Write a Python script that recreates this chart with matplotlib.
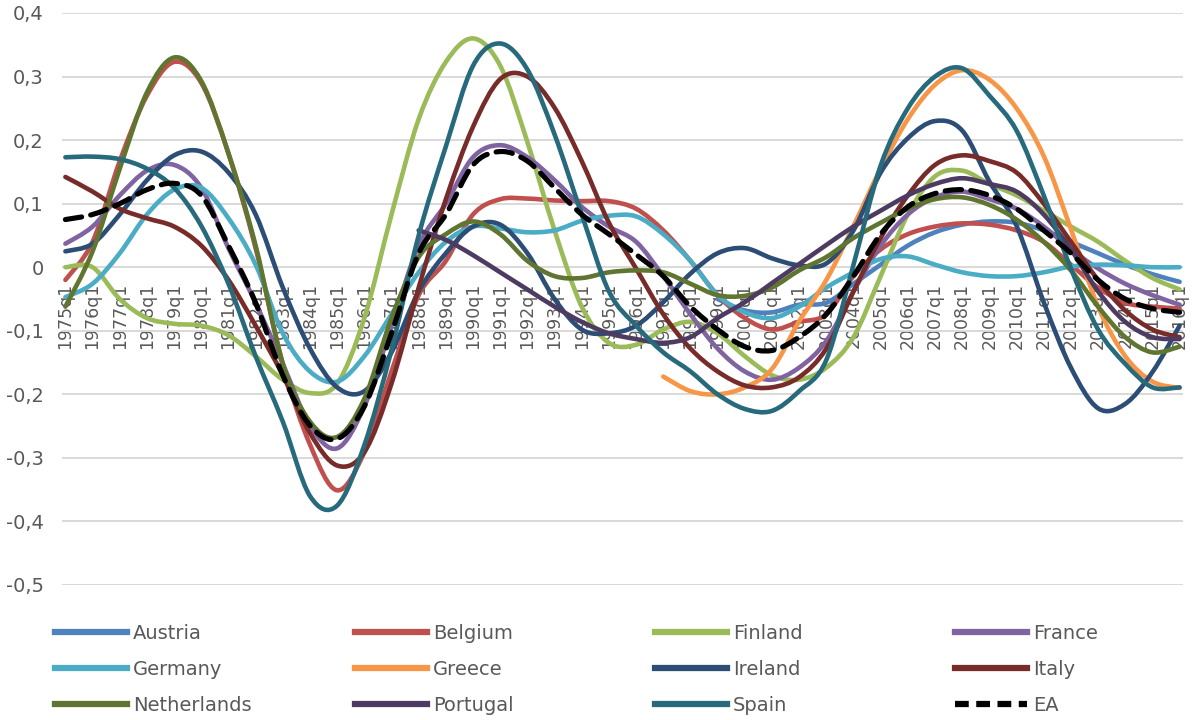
"""Output-gap style cycles for euro area countries, 1975q1-2016q1.

Values read once a year (q1) off the reference chart; the lines are
drawn as smoothed curves like the Excel original.
"""

import numpy as np
import matplotlib
matplotlib.use("Agg")
import matplotlib.pyplot as plt
from matplotlib.path import Path
from matplotlib.patches import PathPatch
from matplotlib.lines import Line2D

nan = np.nan

years = list(range(1975, 2017))

austria = [nan] * 24 + [
    -0.05, -0.068, -0.071, -0.059,
    -0.056, -0.026, 0.004, 0.034, 0.055, 0.067, 0.072,
    0.07, 0.058, 0.04, 0.022, 0.004, -0.011, -0.023]
belgium = [
    -0.02, 0.04, 0.167, 0.27, 0.323, 0.29, 0.179,
    0.03, -0.152, -0.279, -0.351, -0.291, -0.164, -0.044,
    0.01, 0.083, 0.107, 0.108, 0.105, 0.104, 0.104,
    0.092, 0.058, 0.01, -0.044, -0.08, -0.098, -0.086,
    -0.074, -0.014, 0.028, 0.052, 0.064, 0.069, 0.067,
    0.058, 0.04, 0.004, -0.032, -0.056, -0.062, -0.065]
finland = [
    0.0, 0.0, -0.05, -0.08, -0.089, -0.092, -0.107,
    -0.14, -0.177, -0.198, -0.183, -0.08, 0.083, 0.233,
    0.323, 0.36, 0.317, 0.197, 0.058, -0.062, -0.119,
    -0.122, -0.098, -0.086, -0.104, -0.14, -0.17, -0.177,
    -0.158, -0.11, -0.014, 0.083, 0.143, 0.152, 0.131,
    0.113, 0.089, 0.064, 0.04, 0.01, -0.017, -0.035]
france = [
    0.037, 0.064, 0.113, 0.152, 0.161, 0.125, 0.03,
    -0.056, -0.152, -0.249, -0.285, -0.219, -0.092, 0.034,
    0.1, 0.173, 0.192, 0.173, 0.137, 0.095, 0.064,
    0.04, -0.014, -0.074, -0.128, -0.164, -0.177, -0.158,
    -0.116, -0.038, 0.034, 0.083, 0.11, 0.119, 0.107,
    0.092, 0.064, 0.028, -0.002, -0.026, -0.044, -0.059]
germany = [
    -0.047, -0.026, 0.022, 0.083, 0.122, 0.125, 0.077,
    0.004, -0.104, -0.164, -0.18, -0.14, -0.074, -0.008,
    0.04, 0.064, 0.061, 0.055, 0.058, 0.073, 0.081,
    0.08, 0.052, 0.01, -0.044, -0.071, -0.08, -0.062,
    -0.032, -0.008, 0.013, 0.017, 0.004, -0.008, -0.014,
    -0.014, -0.008, 0.001, 0.004, 0.003, 0.0, 0.0]
greece = [nan] * 22 + [
    -0.172, -0.195, -0.2, -0.189, -0.16, -0.085,
    -0.02, 0.065, 0.155, 0.233, 0.287, 0.31, 0.295,
    0.25, 0.175, 0.06, -0.062, -0.14, -0.18, -0.19]
ireland = [
    0.025, 0.037, 0.083, 0.137, 0.176, 0.182, 0.149,
    0.083, -0.032, -0.128, -0.189, -0.195, -0.134, -0.038,
    0.022, 0.064, 0.067, 0.022, -0.05, -0.098, -0.104,
    -0.092, -0.055, -0.01, 0.022, 0.03, 0.014, 0.003,
    0.006, 0.058, 0.149, 0.203, 0.23, 0.215, 0.135,
    0.065, -0.055, -0.158, -0.222, -0.215, -0.165, -0.092]
italy = [
    0.142, 0.119, 0.092, 0.077, 0.064, 0.034, -0.02,
    -0.092, -0.17, -0.261, -0.312, -0.291, -0.183, -0.032,
    0.107, 0.221, 0.296, 0.3, 0.251, 0.167, 0.07,
    -0.002, -0.074, -0.128, -0.164, -0.186, -0.189, -0.173,
    -0.128, -0.038, 0.046, 0.113, 0.161, 0.176, 0.167,
    0.149, 0.1, 0.04, -0.02, -0.068, -0.098, -0.11]
netherlands = [
    -0.062, 0.025, 0.155, 0.275, 0.33, 0.293, 0.179,
    0.034, -0.152, -0.243, -0.267, -0.207, -0.08, 0.016,
    0.052, 0.072, 0.052, 0.01, -0.014, -0.017, -0.008,
    -0.005, -0.008, -0.026, -0.044, -0.045, -0.032, -0.005,
    0.016, 0.046, 0.07, 0.092, 0.107, 0.11, 0.098,
    0.075, 0.04, -0.005, -0.062, -0.11, -0.134, -0.125]
portugal = [nan] * 13 + [
    0.058,
    0.043, 0.019, -0.008, -0.035, -0.062, -0.086, -0.104,
    -0.113, -0.119, -0.11, -0.08, -0.055, -0.025, 0.005,
    0.035, 0.064, 0.089, 0.113, 0.131, 0.14, 0.131,
    0.119, 0.083, 0.028, -0.038, -0.086, -0.11, -0.113]
spain = [
    0.173, 0.174, 0.17, 0.155, 0.125, 0.065, -0.026,
    -0.14, -0.243, -0.36, -0.375, -0.28, -0.13, 0.05,
    0.19, 0.317, 0.352, 0.311, 0.209, 0.083, -0.038,
    -0.092, -0.134, -0.164, -0.2, -0.223, -0.226, -0.195,
    -0.146, 0.004, 0.16, 0.25, 0.30, 0.313, 0.27,
    0.215, 0.113, -0.002, -0.098, -0.152, -0.189, -0.189]
ea = [
    0.075, 0.083, 0.1, 0.122, 0.132, 0.113, 0.034,
    -0.056, -0.17, -0.249, -0.27, -0.219, -0.104, 0.022,
    0.083, 0.161, 0.182, 0.167, 0.125, 0.083, 0.052,
    0.02, -0.014, -0.062, -0.098, -0.125, -0.131, -0.11,
    -0.074, -0.014, 0.052, 0.095, 0.116, 0.122, 0.113,
    0.092, 0.058, 0.022, -0.02, -0.05, -0.065, -0.071]

names = ["Austria", "Belgium", "Finland", "France", "Germany", "Greece",
         "Ireland", "Italy", "Netherlands", "Portugal", "Spain", "EA"]
series = [austria, belgium, finland, france, germany, greece,
          ireland, italy, netherlands, portugal, spain, ea]
colors = ["#4F81BD", "#C0504D", "#9BBB59", "#8064A2", "#4BACC6", "#F79646",
          "#2C4D75", "#772C2A", "#5F7530", "#4D3B62", "#276A7C", "#000000"]

quarters = [f"{y}q1" for y in years]
GREY = "#595959"


def smooth_path(xs, ys):
    # catmull-rom through the points, written as cubic bezier pieces
    pts = np.column_stack([xs, ys])
    n = len(pts)
    verts = [pts[0]]
    codes = [Path.MOVETO]
    for i in range(n - 1):
        p0 = pts[i - 1] if i > 0 else pts[i]
        p1 = pts[i]
        p2 = pts[i + 1]
        p3 = pts[i + 2] if i + 2 < n else pts[i + 1]
        verts += [p1 + (p2 - p0) / 6.0, p2 - (p3 - p1) / 6.0, p2]
        codes += [Path.CURVE4] * 3
    return Path(verts, codes)


def main():
    plt.rcParams["font.family"] = ["DejaVu Sans"]
    fig = plt.figure(figsize=(11.93, 7.2), dpi=100)
    ax = fig.add_axes([62 / 1193, 1 - 585 / 720, (1183 - 62) / 1193, (585 - 13) / 720])

    xq = np.arange(len(years)) * 4  # quarter index of each q1
    lw = 3.3
    for name, vals, col in zip(names, series, colors):
        v = np.array(vals, dtype=float)
        ok = ~np.isnan(v)
        p = smooth_path(xq[ok], v[ok])
        if name == "EA":
            patch = PathPatch(p, fill=False, edgecolor=col, lw=lw + 0.4,
                              linestyle=(0, (3.2, 1.8)), capstyle="round", joinstyle="round", zorder=3)
        else:
            patch = PathPatch(p, fill=False, edgecolor=col, lw=lw,
                              capstyle="round", joinstyle="round", zorder=2)
        ax.add_patch(patch)

    ax.set_xlim(-0.5, 164.5)
    ax.set_ylim(-0.5, 0.4)
    for s in ["top", "right", "left"]:
        ax.spines[s].set_visible(False)
    ax.spines["bottom"].set_position(("data", 0))
    ax.spines["bottom"].set_visible(False)

    yt = np.round(np.arange(-0.5, 0.41, 0.1), 1)
    ax.set_yticks(yt)
    ax.set_yticklabels(["0" if t == 0 else f"{t:.1f}".replace(".", ",") for t in yt])
    ax.set_xticks(xq)
    ax.set_xticklabels(quarters)
    ax.grid(axis="y", color="#D9D9D9", lw=1.4)
    ax.set_axisbelow(True)
    ax.tick_params(axis="y", length=0, pad=13, labelsize=14, labelcolor=GREY)
    ax.tick_params(axis="x", length=0, pad=11, labelsize=12.5, labelcolor=GREY,
                   labelrotation=90)

    # legend: 4 columns of 3 rows, placed by column like the original
    col_x = [55, 355, 655, 955]
    for c in range(4):
        handles = []
        labels = []
        for r in range(3):
            k = r * 4 + c
            ls = (0, (2.2, 1.2)) if names[k] == "EA" else "-"
            handles.append(Line2D([0], [0], color=colors[k], lw=4.5, linestyle=ls))
            labels.append(names[k])
        fig.legend(handles, labels, loc="upper left",
                   bbox_to_anchor=(col_x[c] / 1193, 1 - 624 / 720),
                   frameon=False, fontsize=14, labelcolor=GREY,
                   handlelength=3.7, handletextpad=0.3, borderpad=0,
                   borderaxespad=0, labelspacing=0.88)

    fig.savefig("out.png", dpi=100)


if __name__ == "__main__":
    main()
